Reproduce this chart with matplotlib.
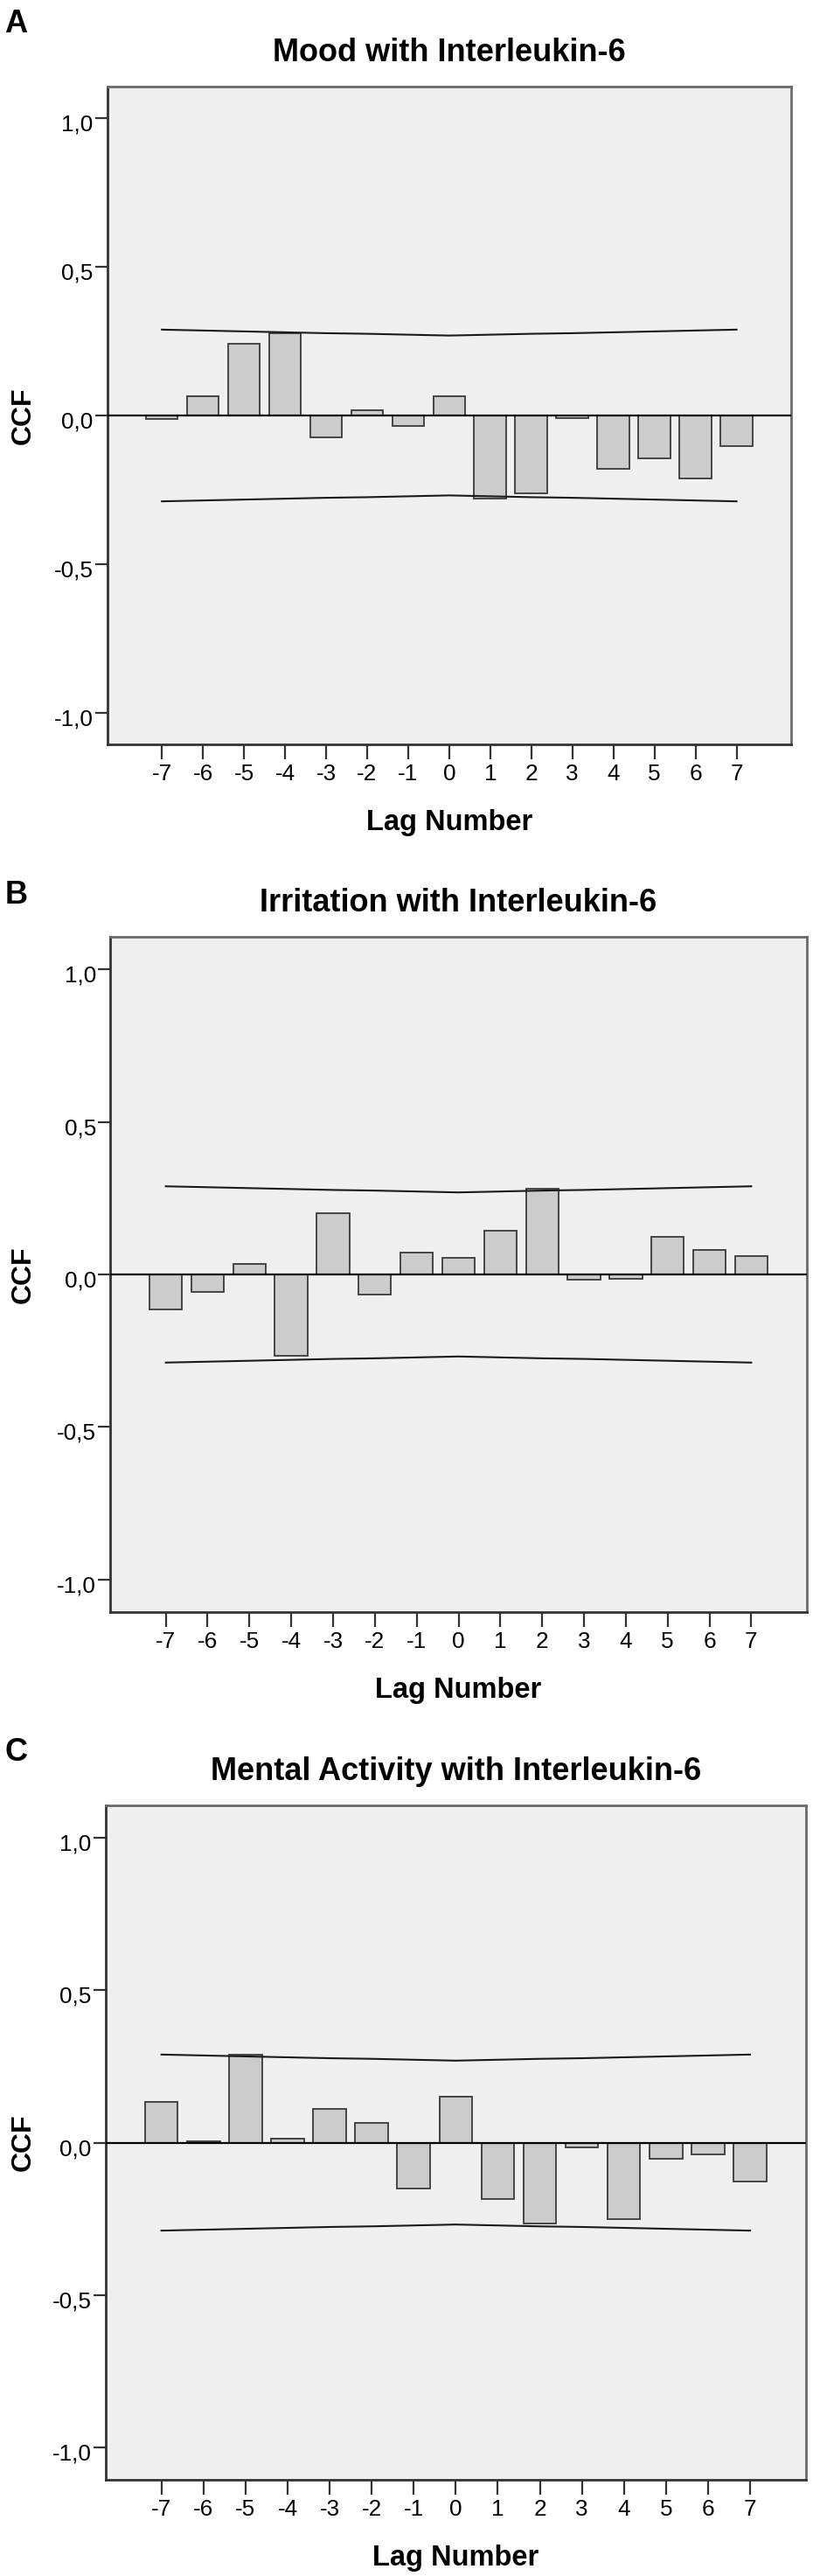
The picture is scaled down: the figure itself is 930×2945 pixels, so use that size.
import matplotlib
matplotlib.use('Agg')
import matplotlib.pyplot as plt
from matplotlib.transforms import ScaledTranslation

plt.rcParams['font.family'] = ['Liberation Sans', 'DejaVu Sans']

# data
lags = list(range(-7, 8))
ci_upper = [0.289, 0.286, 0.283, 0.280, 0.277, 0.275, 0.272, 0.269,
            0.272, 0.275, 0.277, 0.280, 0.283, 0.286, 0.289]

mood_ccf = [-0.011, 0.066, 0.241, 0.278, -0.074, 0.017, -0.035, 0.066,
            -0.281, -0.262, -0.010, -0.179, -0.143, -0.213, -0.104]
irritation_ccf = [-0.115, -0.057, 0.033, -0.267, 0.201, -0.067, 0.072, 0.055,
                  0.142, 0.282, -0.017, -0.015, 0.123, 0.081, 0.061]
mental_ccf = [0.134, 0.004, 0.290, 0.014, 0.110, 0.064, -0.151, 0.151,
              -0.185, -0.266, -0.017, -0.250, -0.053, -0.040, -0.127]

titles = ['Mood with Interleukin-6', 'Irritation with Interleukin-6',
          'Mental Activity with Interleukin-6']
letters = ['A', 'B', 'C']
yticks = [-1.0, -0.5, 0.0, 0.5, 1.0]
ytick_labels = ['-1,0', '-0,5', '0,0', '0,5', '1,0']

W, H = 930, 2945
fig = plt.figure(figsize=(W / 100, H / 100), dpi=100)

# axes boxes in pixels: left, top, right, bottom
boxes = [(122.7, 99, 905, 851), (126, 1071, 923, 1843), (120.7, 2064, 922, 2835)]
letter_pos = [(5, 37), (6, 1033), (5, 2013)]


def fx(x):
    return x / W


def fy(y):
    return 1 - y / H


for i, series in enumerate([mood_ccf, irritation_ccf, mental_ccf]):
    l, t, r, b = boxes[i]
    ax = fig.add_axes([fx(l), fy(b), fx(r) - fx(l), (b - t) / H])
    ax.set_facecolor('#f0f0f0')

    ax.bar(lags, series, width=0.78, color='#cccccc', edgecolor='#3a3a3a',
           linewidth=1.3, zorder=2)
    ax.axhline(0, color='black', linewidth=1.6, zorder=3)
    ax.plot(lags, ci_upper, color='#1a1a1a', linewidth=1.5, zorder=4)
    ax.plot(lags, [-v for v in ci_upper], color='#1a1a1a', linewidth=1.5, zorder=4)

    ax.set_xlim(-8.33, 8.33)
    ax.set_ylim(-1.107, 1.107)
    ax.set_xticks(lags)
    ax.set_xticklabels([str(k) for k in lags], fontsize=18.8)
    ax.set_yticks(yticks)
    ax.set_yticklabels(ytick_labels, fontsize=18.8)
    ax.tick_params(axis='x', length=12, width=1.6, pad=3.5, color='#333333')
    ax.tick_params(axis='y', length=10, width=1.6, pad=1.5, color='#333333')
    for lab in ax.get_yticklabels():
        lab.set_transform(lab.get_transform() +
                          ScaledTranslation(0, -0.05, fig.dpi_scale_trans))

    for side in ['left', 'bottom']:
        ax.spines[side].set_color('#333333')
        ax.spines[side].set_linewidth(2)
    for side in ['top', 'right']:
        ax.spines[side].set_color('#6a6a6a')
        ax.spines[side].set_linewidth(2)

    cx = (l + r) / 2
    fig.text(fx(cx), fy(t - 29), titles[i], ha='center', va='baseline',
             fontsize=26, fontweight='bold')
    fig.text(fx(cx), fy(b + 98), 'Lag Number', ha='center', va='baseline',
             fontsize=23.5, fontweight='bold')
    fig.text(fx(27), fy((t + b) / 2), 'CCF', rotation=90, ha='center',
             va='center', fontsize=23, fontweight='bold')
    lx, ly = letter_pos[i]
    fig.text(fx(lx), fy(ly), letters[i], ha='left', va='baseline',
             fontsize=26, fontweight='bold')

fig.savefig('out.png', dpi=100)
